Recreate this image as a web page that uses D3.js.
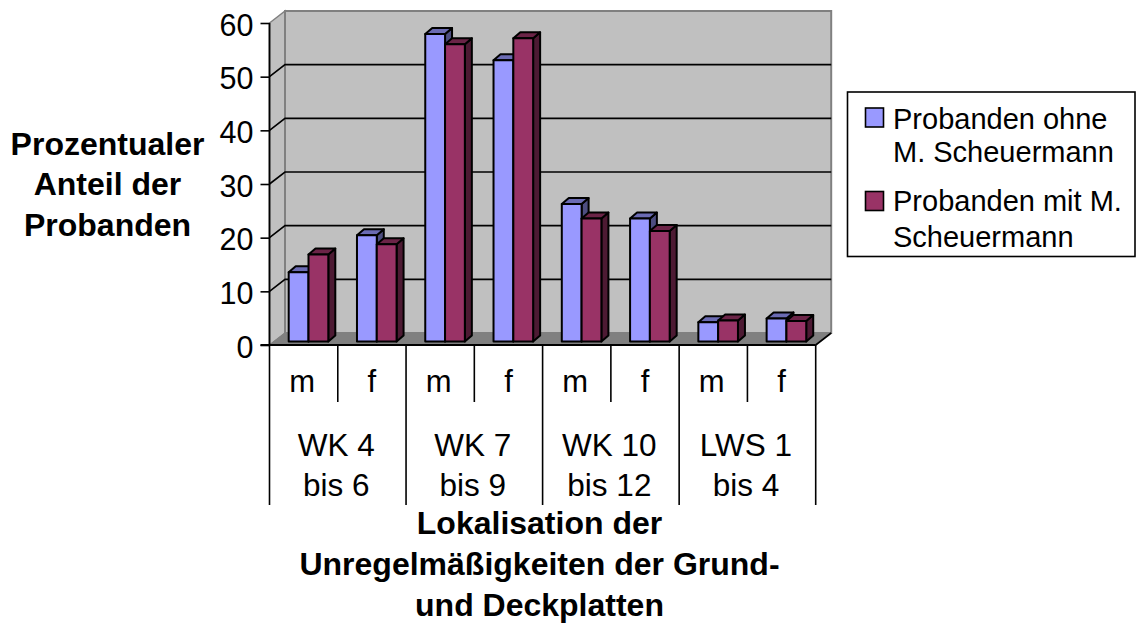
<!DOCTYPE html>
<html><head><meta charset="utf-8">
<script src="https://cdn.jsdelivr.net/npm/d3@7/dist/d3.min.js"></script>
<style>html,body{margin:0;padding:0;background:#fff}svg{display:block}text{font-family:"Liberation Sans",Arial,sans-serif;fill:#000}</style>
</head><body><svg id="c" width="1138" height="624"></svg>
<script>
const sexLabels=["m","f","m","f","m","f","m","f"];
const groupLabels=[["WK 4","bis 6"],["WK 7","bis 9"],["WK 10","bis 12"],["LWS 1","bis 4"]];
const seriesOhne=[12.9,19.8,57.3,52.4,25.6,22.9,3.6,4.3];
const seriesMit=[16.2,18.1,55.4,56.5,22.9,20.6,3.9,3.8];
const seriesNames=[["Probanden ohne","M. Scheuermann"],["Probanden mit M.","Scheuermann"]];
const yTicks=[0,10,20,30,40,50,60];
const yTitle=["Prozentualer","Anteil der","Probanden"];
const xTitle=["Lokalisation der","Unregelmäßigkeiten der Grund-","und Deckplatten"];

const colors=[{f:"#9999ff",t:"#6b6bb3",s:"#4d4d80"},{f:"#993366",t:"#6b2447",s:"#4d1a33"}];
const svg=d3.select("#c");
const dx=15.5,dy=-12;
const x=d3.scaleBand().domain(d3.range(8)).range([269.5,815.7]);
const y=d3.scaleLinear().domain([0,60]).range([345,23]);
const g=svg.append("g");
const pts=a=>a.map(p=>p.join(",")).join(" ");
const x0=x.range()[0],x1=x.range()[1],y0=y(0),yT=y(60);
// walls
g.append("polygon").attr("points",pts([[x0,y0],[x0+dx,y0+dy],[x0+dx,yT+dy],[x0,yT]])).attr("fill","#c0c0c0").attr("stroke","#808080").attr("stroke-width",1.5);
g.append("polygon").attr("points",pts([[x0+dx,y0+dy],[x1+dx,y0+dy],[x1+dx,yT+dy],[x0+dx,yT+dy]])).attr("fill","#c0c0c0").attr("stroke","#808080").attr("stroke-width",2);
g.append("polygon").attr("points",pts([[x0,y0],[x1,y0],[x1+dx,y0+dy],[x0+dx,y0+dy]])).attr("fill","#808080").attr("stroke","#808080");
// gridlines
yTicks.slice(1,6).forEach(t=>{
  g.append("path").attr("d",`M${x0},${y(t)}L${x0+dx},${y(t)+dy}L${x1+dx},${y(t)+dy}`).attr("fill","none").attr("stroke","#000").attr("stroke-width",1.6);
});
g.append("line").attr("x1",x1).attr("x2",x1+dx).attr("y1",y0).attr("y2",y0+dy).attr("stroke","#000").attr("stroke-width",1.6);
// bars
const barY=d3.scaleLinear().domain([0,60]).range([341.5,19.5]);
const barW=19.8,bdx=7,bdy=-6;
[seriesOhne,seriesMit].forEach((vals,si)=>{
  vals.forEach((v,i)=>{
    const bx=x(i)+19.2+si*barW, w=barW, top=barY(v), bot=barY(0), c=colors[si];
    const b=g.append("g").attr("stroke","#000").attr("stroke-width",2).attr("stroke-linejoin","round");
    b.append("polygon").attr("points",pts([[bx+w,top],[bx+w+bdx,top+bdy],[bx+w+bdx,bot+bdy],[bx+w,bot]])).attr("fill",c.s);
    b.append("polygon").attr("points",pts([[bx,top],[bx+bdx,top+bdy],[bx+w+bdx,top+bdy],[bx+w,top]])).attr("fill",c.t);
    b.append("rect").attr("x",bx).attr("y",top).attr("width",w).attr("height",bot-top).attr("fill",c.f);
  });
});
// y axis
const ax=svg.append("g").attr("transform",`translate(${x0},0)`).call(d3.axisLeft(y).tickValues(yTicks).tickSize(9).tickPadding(7).tickFormat(d3.format("d")));
ax.select(".domain").attr("stroke","#000").attr("stroke-width",1.8).attr("d",`M0,${yT}V${y0}`);
ax.selectAll(".tick line").attr("stroke","#000").attr("stroke-width",1.6);
ax.selectAll(".tick text").attr("font-size",30.5).attr("font-family","Liberation Sans").attr("fill","#000").attr("dy",12);
// x axis lines and labels
svg.append("line").attr("x1",x0-9).attr("x2",x1).attr("y1",y0).attr("y2",y0).attr("stroke","#000").attr("stroke-width",1.8);
d3.range(9).forEach(i=>{
  const xp=x0+i*x.step();
  svg.append("line").attr("x1",xp).attr("x2",xp).attr("y1",y0).attr("y2",i%2?402:505).attr("stroke","#000").attr("stroke-width",1.6);
});
sexLabels.forEach((s,i)=>{
  svg.append("text").attr("x",x(i)+x.step()/2-(s==="m"?1.5:0)).attr("y",392).attr("text-anchor","middle").attr("font-size",31).text(s);
});
groupLabels.forEach((l,i)=>{
  l.forEach((t,j)=>svg.append("text").attr("x",x(i*2)+x.step()-1.5).attr("y",456+j*39.7).attr("text-anchor","middle").attr("font-size",31.5).text(t));
});
yTitle.forEach((t,j)=>svg.append("text").attr("x",107.5).attr("y",154.5+j*40.8).attr("text-anchor","middle").attr("font-size",32).attr("font-weight","bold").text(t));
xTitle.forEach((t,j)=>svg.append("text").attr("x",539.5).attr("y",534+j*40.8).attr("text-anchor","middle").attr("font-size",32).attr("font-weight","bold").text(t));
// legend
svg.append("rect").attr("x",847.5).attr("y",92).attr("width",287.5).attr("height",164.5).attr("fill","#fff").attr("stroke","#000").attr("stroke-width",1.6);
seriesNames.forEach((l,i)=>{
  const oy=i?83.5:0;
  svg.append("rect").attr("x",865.5).attr("y",108+oy).attr("width",18).attr("height",19).attr("fill",colors[i].f).attr("stroke","#000").attr("stroke-width",1.6);
  l.forEach((t,j)=>svg.append("text").attr("x",893).attr("y",(i?211:129)+j*(i?35.5:32.5)).attr("font-size",29).text(t));
});
</script></body></html>
